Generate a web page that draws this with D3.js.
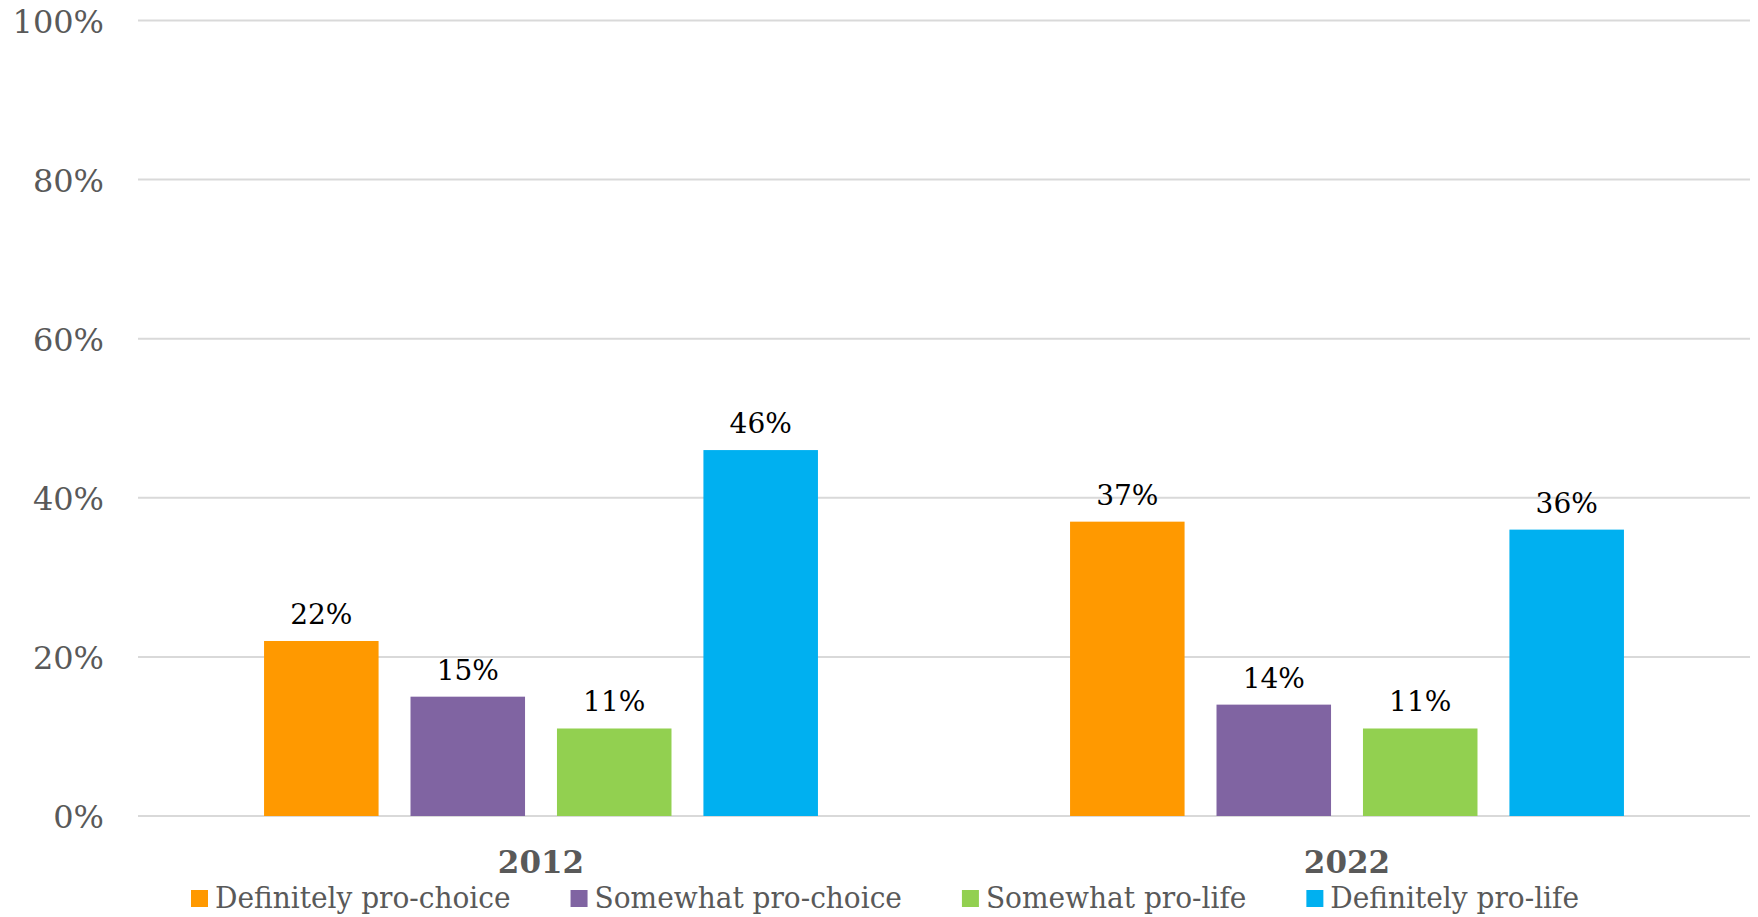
<!DOCTYPE html>
<html>
<head>
<meta charset="utf-8">
<script src="https://cdn.jsdelivr.net/npm/d3@7"></script>
<style>
  html, body { margin: 0; padding: 0; background: #fff; }
  svg { display: block; }
  text { font-family: "DejaVu Serif", Georgia, serif; }
</style>
</head>
<body>
<svg id="chart" width="1758" height="917"></svg>
<script>
// ---- data ----
const years = ["2012", "2022"];
const seriesNames = ["Definitely pro-choice", "Somewhat pro-choice", "Somewhat pro-life", "Definitely pro-life"];
const values2012 = [22, 15, 11, 46];
const values2022 = [37, 14, 11, 36];
const yTicks = [0, 20, 40, 60, 80, 100];
const seriesColors = ["#FF9900", "#8064A2", "#92D050", "#00B0F0"];

const valuesByYear = { "2012": values2012, "2022": values2022 };

// ---- layout ----
const plot = { left: 138, right: 1750, top: 20.5, bottom: 816 };

const svg = d3.select("#chart");

const x0 = d3.scaleBand().domain(years).range([plot.left, plot.right]).padding(0);
const groupW = 553.9;
const x1 = d3.scaleBand().domain(seriesNames)
  .range([(x0.bandwidth() - groupW) / 2, (x0.bandwidth() + groupW) / 2])
  .paddingInner(0.218).paddingOuter(0);
const y = d3.scaleLinear().domain([0, 100]).range([plot.bottom, plot.top]);
const color = d3.scaleOrdinal().domain(seriesNames).range(seriesColors);

// gridlines
svg.append("g").selectAll("line").data(yTicks).join("line")
  .attr("x1", plot.left).attr("x2", plot.right)
  .attr("y1", d => y(d)).attr("y2", d => y(d))
  .attr("stroke", "#d9d9d9").attr("stroke-width", 2);

// y axis labels
const yAxis = d3.axisLeft(y).tickValues(yTicks).tickFormat(d => d + "%").tickSize(0).tickPadding(0);
const yg = svg.append("g").attr("transform", `translate(104,0)`).call(yAxis);
yg.select(".domain").remove();
yg.selectAll("text")
  .attr("font-family", "DejaVu Serif")
  .attr("font-size", 32)
  .attr("fill", "#595959")
  .attr("dy", "0.36em");

// bars
const groups = svg.append("g").selectAll("g").data(years).join("g")
  .attr("transform", d => `translate(${x0(d)},0)`);

groups.selectAll("rect")
  .data(yr => seriesNames.map((s, i) => ({ s, v: valuesByYear[yr][i] })))
  .join("rect")
  .attr("x", d => x1(d.s))
  .attr("width", x1.bandwidth())
  .attr("y", d => y(d.v))
  .attr("height", d => y(0) - y(d.v))
  .attr("fill", d => color(d.s));

groups.selectAll("text.lbl")
  .data(yr => seriesNames.map((s, i) => ({ s, v: valuesByYear[yr][i] })))
  .join("text")
  .attr("class", "lbl")
  .attr("x", d => x1(d.s) + x1.bandwidth() / 2)
  .attr("y", d => y(d.v) - 17)
  .attr("text-anchor", "middle")
  .attr("font-size", 28)
  .attr("fill", "#000")
  .text(d => d.v + "%");

// x axis labels
const xAxis = d3.axisBottom(x0).tickSize(0).tickPadding(0);
const xg = svg.append("g").attr("transform", `translate(0,873)`).call(xAxis);
xg.select(".domain").remove();
xg.selectAll("text")
  .attr("font-family", "DejaVu Serif")
  .attr("font-size", 31)
  .attr("font-weight", "bold")
  .attr("fill", "#595959")
  .attr("dy", 0);

// legend
const legendLeft = 191, legendRight = 1579, sq = 17, sqGap = 7, itemGap = 60;
const lg = svg.append("g");
const items = lg.selectAll("g").data(seriesNames).join("g");
items.append("rect").attr("width", sq).attr("height", sq).attr("y", 890)
  .attr("fill", d => color(d));
const texts = items.append("text")
  .attr("y", 908)
  .attr("font-size", 30)
  .attr("fill", "#595959")
  .text(d => d);
const natural = texts.nodes().map(n => n.getComputedTextLength());
const avail = (legendRight - legendLeft) - seriesNames.length * (sq + sqGap) - (seriesNames.length - 1) * itemGap;
const k = avail / d3.sum(natural);
let cx = legendLeft;
items.each(function(d, i) {
  const g = d3.select(this);
  g.select("rect").attr("x", cx);
  g.select("text").attr("x", cx + sq + sqGap)
    .attr("textLength", natural[i] * k).attr("lengthAdjust", "spacingAndGlyphs");
  cx += sq + sqGap + natural[i] * k + itemGap;
});
</script>
</body>
</html>
